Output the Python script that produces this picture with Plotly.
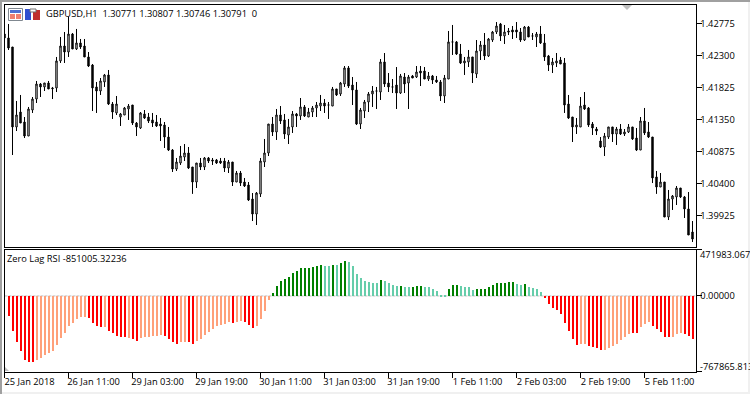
import plotly.graph_objects as go

open_ = [
1.42622,1.42563,1.42429,1.41242,1.41464,1.41316,1.41108,1.41494,1.41657,1.41880,
1.41836,1.41895,1.41821,1.41821,1.42222,1.42444,1.42355,1.42622,1.42400,1.42489,
1.42444,1.42281,1.42162,1.41836,1.41776,1.41910,1.42014,1.41583,1.41450,1.41390,
1.41420,1.41509,1.41568,1.41301,1.41227,1.41435,1.41390,1.41346,1.41316,1.41286,
1.41271,1.41093,1.40900,1.40618,1.40707,1.40796,1.40856,1.40648,1.40425,1.40707,
1.40648,1.40782,1.40752,1.40752,1.40737,1.40737,1.40633,1.40722,1.40425,1.40559,
1.40425,1.40381,1.40173,1.39950,1.40247,1.40722,1.40856,1.41286,1.41168,1.41420,
1.41346,1.41123,1.41242,1.41435,1.41405,1.41539,1.41390,1.41464,1.41524,1.41553,
1.41598,1.41568,1.41553,1.41806,1.41732,1.41880,1.42118,1.41865,1.41791,1.41286,
1.41479,1.41613,1.41732,1.41776,1.41761,1.42207,1.41895,1.41836,1.41865,1.41746,
1.41984,1.41895,1.41999,1.41984,1.42073,1.42073,1.41954,1.41999,1.41939,1.41910,
1.41702,1.41954,1.42504,1.42504,1.42325,1.42192,1.42207,1.42281,1.42029,1.42370,
1.42459,1.42296,1.42533,1.42652,1.42771,1.42593,1.42667,1.42682,1.42682,1.42652,
1.42533,1.42726,1.42593,1.42578,1.42622,1.42489,1.42296,1.42162,1.42192,1.42236,
1.42192,1.41583,1.41390,1.41242,1.41242,1.41568,1.41524,1.41286,1.41212,1.41034,
1.40945,1.41093,1.41242,1.41138,1.41212,1.41138,1.41168,1.41242,1.41078,1.40900,
1.41331,1.41168,1.41093,1.40500,1.40351,1.40425,1.39906,1.40173,1.40203,1.40336,
1.40203,1.40025,1.39683]

high = [
1.42637,1.42771,1.42429,1.41628,1.41717,1.41390,1.41539,1.41687,1.41925,1.41895,
1.41895,1.41925,1.41836,1.42281,1.42578,1.42652,1.42875,1.42637,1.42697,1.42548,
1.42548,1.42355,1.42177,1.41910,1.41969,1.42029,1.42088,1.41613,1.41702,1.41450,
1.41539,1.41583,1.41568,1.41316,1.41464,1.41494,1.41450,1.41450,1.41420,1.41375,
1.41316,1.41242,1.40915,1.40782,1.40960,1.40989,1.40945,1.40648,1.40707,1.40782,
1.40796,1.40796,1.40782,1.40767,1.40782,1.40782,1.40752,1.40722,1.40589,1.40589,
1.40485,1.40425,1.40262,1.40277,1.40782,1.41064,1.41286,1.41390,1.41509,1.41553,
1.41435,1.41361,1.41479,1.41450,1.41672,1.41568,1.41524,1.41553,1.41613,1.41717,
1.41657,1.41613,1.41836,1.41806,1.41910,1.42147,1.42147,1.41984,1.41910,1.41524,
1.41643,1.41761,1.41850,1.41836,1.42251,1.42340,1.42043,1.41954,1.42132,1.42029,
1.42043,1.42014,1.42014,1.42147,1.42147,1.42132,1.42058,1.42014,1.41999,1.41939,
1.42014,1.42667,1.42756,1.42518,1.42474,1.42281,1.42385,1.42281,1.42533,1.42518,
1.42637,1.42563,1.42667,1.42800,1.42786,1.42756,1.42711,1.42741,1.42800,1.42711,
1.42741,1.42741,1.42637,1.42652,1.42741,1.42622,1.42311,1.42266,1.42340,1.42281,
1.42266,1.41717,1.41390,1.41375,1.41687,1.41761,1.41539,1.41316,1.41242,1.41093,
1.41153,1.41242,1.41242,1.41242,1.41286,1.41212,1.41286,1.41242,1.41227,1.41390,
1.41524,1.41316,1.41093,1.40589,1.40559,1.40425,1.40307,1.40232,1.40366,1.40336,
1.40218,1.40277,1.39846]

low = [
1.42548,1.42385,1.40826,1.41182,1.41301,1.41078,1.41108,1.41450,1.41598,1.41687,
1.41776,1.41806,1.41657,1.41761,1.42192,1.42192,1.42281,1.42400,1.42385,1.42400,
1.42281,1.42132,1.41479,1.41450,1.41717,1.41836,1.41568,1.41361,1.41420,1.41257,
1.41420,1.41346,1.41271,1.41108,1.41212,1.41361,1.41301,1.41242,1.41242,1.41034,
1.40930,1.40885,1.40574,1.40589,1.40678,1.40737,1.40618,1.40249,1.40336,1.40603,
1.40603,1.40707,1.40678,1.40693,1.40693,1.40574,1.40559,1.40366,1.40425,1.40366,
1.40351,1.40143,1.39846,1.39787,1.40203,1.40648,1.40811,1.41108,1.41049,1.41286,
1.41064,1.40989,1.41153,1.41242,1.41346,1.41390,1.41390,1.41390,1.41390,1.41479,
1.41450,1.41361,1.41553,1.41702,1.41702,1.41836,1.41821,1.41568,1.41271,1.41212,
1.41375,1.41464,1.41539,1.41509,1.41643,1.41836,1.41761,1.41746,1.41509,1.41732,
1.41746,1.41509,1.41969,1.41969,1.41850,1.41954,1.41925,1.41880,1.41895,1.41628,
1.41598,1.41954,1.42311,1.42311,1.42177,1.42014,1.42132,1.41895,1.41969,1.42236,
1.42236,1.42281,1.42504,1.42622,1.42518,1.42474,1.42607,1.42548,1.42563,1.42504,
1.42518,1.42578,1.42533,1.42429,1.42474,1.42222,1.42073,1.42043,1.42132,1.42177,
1.41450,1.41361,1.41019,1.41138,1.41242,1.41494,1.41242,1.41123,1.41123,1.40930,
1.40811,1.41064,1.41019,1.40975,1.41123,1.41108,1.41153,1.41049,1.40885,1.40900,
1.41123,1.41078,1.40410,1.40249,1.40351,1.39906,1.39861,1.40010,1.40084,1.40188,
1.39891,1.39639,1.39535]

close = [
1.42563,1.42414,1.41242,1.41420,1.41301,1.41108,1.41509,1.41657,1.41880,1.41836,
1.41895,1.41806,1.41811,1.42222,1.42444,1.42355,1.42622,1.42400,1.42489,1.42429,
1.42281,1.42147,1.41821,1.41776,1.41925,1.42014,1.41583,1.41464,1.41583,1.41435,
1.41524,1.41553,1.41301,1.41242,1.41450,1.41375,1.41331,1.41301,1.41257,1.41257,
1.41093,1.40900,1.40618,1.40722,1.40811,1.40856,1.40633,1.40425,1.40707,1.40648,
1.40782,1.40737,1.40737,1.40707,1.40707,1.40633,1.40722,1.40425,1.40559,1.40410,
1.40366,1.40158,1.39950,1.40262,1.40737,1.40856,1.41286,1.41168,1.41420,1.41331,
1.41138,1.41242,1.41435,1.41405,1.41539,1.41405,1.41464,1.41524,1.41568,1.41598,
1.41553,1.41568,1.41806,1.41717,1.41895,1.42118,1.41850,1.41791,1.41286,1.41494,
1.41613,1.41732,1.41776,1.41776,1.42207,1.41880,1.41836,1.41836,1.41746,1.41999,
1.41880,1.41984,1.41969,1.42058,1.42043,1.41954,1.41999,1.41939,1.41910,1.41702,
1.41969,1.42504,1.42504,1.42325,1.42192,1.42222,1.42281,1.42043,1.42370,1.42459,
1.42296,1.42548,1.42652,1.42741,1.42593,1.42652,1.42652,1.42652,1.42652,1.42533,
1.42726,1.42578,1.42593,1.42622,1.42489,1.42281,1.42162,1.42207,1.42222,1.42177,
1.41568,1.41375,1.41242,1.41271,1.41553,1.41509,1.41271,1.41227,1.41182,1.40945,
1.41108,1.41242,1.41138,1.41212,1.41138,1.41168,1.41242,1.41064,1.40900,1.41331,
1.41153,1.41093,1.40485,1.40351,1.40425,1.39906,1.40173,1.40218,1.40336,1.40203,
1.40025,1.39639,1.39579]

rsi_values = [
-194712,-348432,-461160,-553392,-649040,-666120,-666120,-642208,-621712,-590968,
-573888,-553392,-488488,-420168,-368928,-297192,-269864,-232288,-211792,-211792,
-218624,-266448,-297192,-307440,-307440,-348432,-375760,-399672,-416752,-416752,
-420168,-430416,-450912,-427000,-416752,-409920,-403088,-399672,-392840,-403088,
-433832,-461160,-478240,-467992,-461160,-461160,-478240,-450912,-430416,-392840,
-358680,-327936,-304024,-290360,-283528,-263032,-266448,-256200,-252784,-259616,
-286944,-317688,-297192,-225456,-143472,-40992,
30744,102480,153720,174216,194712,235704,256200,286944,286944,286944,
297192,307440,317688,307440,307440,317688,321104,338184,358680,348432,
307440,225456,184464,153720,143472,133224,133224,163968,153720,133224,
119560,102480,102480,92232,92232,92232,102480,102480,92232,92232,
71736,51240,10248,10248,71736,112728,112728,102480,95648,95648,
61488,71736,75152,75152,92232,112728,133224,133224,140056,143472,
143472,129808,112728,122976,99064,81984,71736,40992,
-20496,-71736,-112728,-133224,-174216,-266448,-348432,-430416,-491904,-481656,
-481656,-502152,-512400,-522648,-543144,-543144,-522648,-502152,-481656,-440664,
-409920,-379176,-368928,-368928,-307440,-276696,-256200,-297192,-327936,-358680,
-409920,-409920,-409920,-382592,-368928,-379176,-399672,-430416]

rsi_states = (
"RRRRRRR" "SSSSSSSSSSSSS" "RRRR" "S" "RRRRR" "S" "RR" "SSSSSS" "RRRR" "SS" "RR"
"SSSSSSSSS" "R" "SS" "RRR" "SSSS" "GGGGGGGGGGGGG" "AA" "G" "A" "GG" "AAAAAAAA" "G"
"AAAA" "G" "AA" "GGG" "AAAAAA" "GGG" "AAAA" "GGGGGGGGGG" "AA" "G" "AAAA"
"RRRRRRRRR" "SS" "RRRR" "SSSSSSS" "RR" "SSS" "RRRRR" "SSS" "RRR")
state_colors = {"R": "#FF0000", "S": "#FFA07A", "G": "#008000", "A": "#66CDAA"}

price_ticks = [1.42775, 1.42300, 1.41825, 1.41350, 1.40875, 1.40400, 1.39925]
price_labels = ["1.42775", "1.42300", "1.41825", "1.41350", "1.40875", "1.40400", "1.39925"]
price_range = [1.39468, 1.43060]
rsi_range = [-767865.813, 471983.067]
time_ticks = [0, 16, 32, 48, 64, 80, 96, 112, 128, 144, 160]
time_labels = ["25 Jan 2018", "26 Jan 11:00", "29 Jan 03:00", "29 Jan 19:00", "30 Jan 11:00",
               "31 Jan 03:00", "31 Jan 19:00", "1 Feb 11:00", "2 Feb 03:00", "2 Feb 19:00", "5 Feb 11:00"]

FONT = "Open Sans"
FS = 9.3
W, H = 750, 394
bars = list(range(len(open_)))
X0, X1 = 4.5, 695.5

fig = go.Figure()
fig.add_trace(go.Candlestick(
    x=bars, open=open_, high=high, low=low, close=close, whiskerwidth=0,
    increasing=dict(line=dict(color="black", width=1), fillcolor="white"),
    decreasing=dict(line=dict(color="black", width=1), fillcolor="black"),
    xaxis="x", yaxis="y", showlegend=False, hoverinfo="skip"))
fig.add_trace(go.Bar(
    x=bars[1:], y=rsi_values, width=0.5, offset=-0.375,
    marker=dict(color=[state_colors[s] for s in rsi_states], line=dict(width=0)),
    xaxis="x2", yaxis="y2", showlegend=False, hoverinfo="skip"))

axis_common = dict(showgrid=False, zeroline=False, showline=True, linecolor="black",
                   linewidth=1, mirror=True, ticks="outside", ticklen=5, tickcolor="black",
                   tickwidth=1, tickfont=dict(family=FONT, size=FS, color="black"))
xr = [0, (X1 - X0) / 4]
fig.update_layout(
    width=W, height=H, margin=dict(l=0, r=0, t=0, b=0), paper_bgcolor="white",
    plot_bgcolor="white", boxgap=0.5, bargap=0, autosize=False,
    xaxis=dict(axis_common, domain=[X0 / W, X1 / W], range=xr, anchor="y", ticks="",
               showticklabels=False, rangeslider=dict(visible=False)),
    yaxis=dict(axis_common, domain=[1 - 246.5 / H, 1 - 4.5 / H], range=price_range, anchor="x",
               side="right", tickvals=price_ticks, ticktext=price_labels, ticklabelstandoff=-3),
    xaxis2=dict(axis_common, domain=[X0 / W, X1 / W], range=xr, anchor="y2",
                tickvals=time_ticks, ticktext=time_labels, tickangle=0, ticklabelshift=25,
                ticklabelstandoff=-4),
    yaxis2=dict(axis_common, domain=[1 - 371.5 / H, 1 - 249.5 / H], range=rsi_range, anchor="x2",
                side="right", tickvals=[rsi_range[0], 0, rsi_range[1]], ticktext=["", "0.00000", ""],
                ticklabelstandoff=-3),
)

def px_rect(x0, y0, x1, y1, color, line=None, layer="above"):
    fig.add_shape(type="rect", xref="paper", yref="paper", x0=x0 / W, x1=x1 / W,
                  y0=1 - y0 / H, y1=1 - y1 / H, fillcolor=color, layer=layer,
                  line=dict(width=1 if line else 0, color=line or color))

def px_tri(pts, color):
    path = "M" + " L".join(f"{x / W},{1 - y / H}" for x, y in pts) + " Z"
    fig.add_shape(type="path", xref="paper", yref="paper", path=path, fillcolor=color,
                  line=dict(width=0))

# window chrome
px_rect(0, 0, W, 2, "#A0A0A0")
px_rect(0, 0, 2, H, "#A0A0A0")
px_rect(748, 2, W, H, "#F0F0F0")
px_rect(2, 392, W, H, "#F0F0F0")
# shift marker and corner marker
px_tri([(622, 5), (632, 5), (627, 10)], "#C0C0C0")
px_tri([(5, 367), (5, 371), (9, 371)], "#C0C0C0")
# toolbar glyphs
px_rect(8.5, 8.5, 22.5, 20.5, "white", "#808890")
px_rect(10, 10, 21, 13, "#5070D0")
px_rect(10, 14, 15, 19, "#F08070")
px_rect(16, 14, 21, 19, "#F08070")
px_rect(25, 9, 31, 20, "#3050D0")
px_rect(33, 10, 40, 20, "#C03030")
px_rect(30, 9, 36, 12, "white", "#707070")
# zero line of the lower panel
fig.add_shape(type="line", xref="x2", yref="y2", x0=xr[0], x1=xr[1], y0=0, y1=0, layer="below",
              line=dict(color="#C0C0C0", width=1, dash="3px,1px"))

def note(text, x, y):
    fig.add_annotation(text=text, xref="paper", yref="paper", x=x / W, y=1 - y / H,
                       xanchor="left", yanchor="middle", showarrow=False,
                       font=dict(family=FONT, size=FS, color="black"))

note("GBPUSD,H1  1.30771 1.30807 1.30746 1.30791  0", 44, 14)
note("Zero Lag RSI -851005.32236", 5, 258)
note("471983.067", 698, 254.5)
note("-767865.813", 698, 366)

fig.write_html("out.html", config=dict(displayModeBar=False),
               post_script="document.body.style.margin='0';")
